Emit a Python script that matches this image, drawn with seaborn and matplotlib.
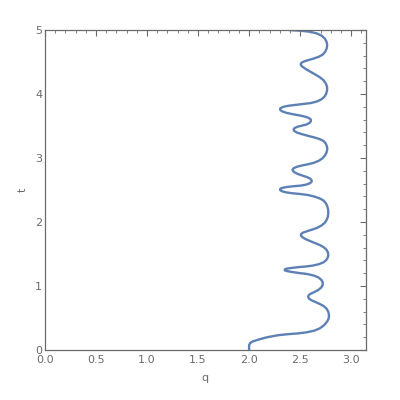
import numpy as np
import pandas as pd
import matplotlib
matplotlib.use("Agg")
import matplotlib.pyplot as plt
import seaborn as sns
from matplotlib.ticker import MultipleLocator, FormatStrFormatter

# values, t increasing
t_vals = [
    0.000, 0.078, 0.109, 0.133, 0.164, 0.198, 0.230, 0.247, 0.259, 0.277,
    0.302, 0.339, 0.391, 0.448, 0.495, 0.547, 0.598, 0.648, 0.688, 0.722,
    0.753, 0.781, 0.808, 0.833,
    0.856, 0.875, 0.902, 0.938, 0.977, 1.016, 1.055, 1.094, 1.133, 1.163,
    1.188, 1.203, 1.219, 1.234, 1.245, 1.261, 1.272, 1.283, 1.294, 1.305,
    1.319, 1.341, 1.370, 1.409, 1.453, 1.492,
    1.531, 1.570, 1.602, 1.636, 1.664, 1.700, 1.734, 1.763, 1.789, 1.813,
    1.833, 1.855, 1.883, 1.911, 1.945, 1.984, 2.027, 2.078, 2.133, 2.188,
    2.242, 2.292, 2.336, 2.367, 2.395, 2.422, 2.438, 2.450, 2.464, 2.481,
    2.500, 2.519, 2.534, 2.547, 2.558, 2.567, 2.581, 2.602, 2.625, 2.648,
    2.675, 2.698, 2.723, 2.747, 2.773, 2.800, 2.820, 2.841, 2.863, 2.883,
    2.902, 2.925, 2.958, 2.995, 3.039, 3.086, 3.133, 3.180, 3.227, 3.266,
    3.297, 3.323, 3.348, 3.375, 3.398, 3.425, 3.448, 3.469, 3.489, 3.505,
    3.523, 3.550, 3.578, 3.602, 3.625, 3.645, 3.664, 3.684, 3.706, 3.731,
    3.753, 3.777, 3.800, 3.817, 3.830, 3.844, 3.859, 3.883, 3.917, 3.958,
    4.008, 4.063, 4.117, 4.167, 4.219, 4.266, 4.308, 4.352, 4.394, 4.427,
    4.453, 4.477, 4.497, 4.516, 4.534, 4.555, 4.583, 4.617, 4.661, 4.714,
    4.766, 4.817, 4.867, 4.914, 4.948, 4.973, 4.988, 5.000]
q_vals = [
    2.000, 2.000, 2.011, 2.035, 2.094, 2.173, 2.278, 2.380, 2.478, 2.566,
    2.638, 2.694, 2.737, 2.766, 2.780, 2.783, 2.776, 2.758, 2.729, 2.689,
    2.645, 2.606, 2.584, 2.579,
    2.584, 2.599, 2.635, 2.678, 2.707, 2.721, 2.722, 2.709, 2.680, 2.635,
    2.566, 2.488, 2.419, 2.370, 2.350, 2.350, 2.370, 2.419, 2.478, 2.557,
    2.625, 2.684, 2.729, 2.758, 2.773, 2.776,
    2.771, 2.756, 2.734, 2.699, 2.655, 2.601, 2.552, 2.522, 2.507, 2.510,
    2.527, 2.566, 2.621, 2.670, 2.709, 2.739, 2.758, 2.771, 2.776, 2.775,
    2.767, 2.753, 2.729, 2.694, 2.645, 2.576, 2.498, 2.419, 2.360, 2.321,
    2.304, 2.306, 2.326, 2.370, 2.429, 2.498, 2.552, 2.591, 2.611, 2.614,
    2.601, 2.573, 2.527, 2.483, 2.448, 2.429, 2.426, 2.437, 2.468, 2.517,
    2.576, 2.635, 2.684, 2.719, 2.743, 2.759, 2.766, 2.763, 2.751, 2.729,
    2.689, 2.635, 2.573, 2.512, 2.468, 2.441, 2.436, 2.447, 2.475, 2.517,
    2.562, 2.594, 2.606, 2.604, 2.586, 2.552, 2.498, 2.429, 2.365, 2.321,
    2.304, 2.306, 2.335, 2.389, 2.458, 2.540, 2.606, 2.665, 2.709, 2.739,
    2.756, 2.765, 2.763, 2.751, 2.727, 2.689, 2.645, 2.596, 2.552, 2.522,
    2.507, 2.507, 2.522, 2.552, 2.589, 2.635, 2.684, 2.722, 2.746, 2.761,
    2.765, 2.759, 2.741, 2.709, 2.660, 2.596, 2.507, 2.392]

x_ticks = [0.0, 0.5, 1.0, 1.5, 2.0, 2.5, 3.0]
y_ticks = [0, 1, 2, 3, 4, 5]

df = pd.DataFrame({"q": q_vals, "t": t_vals})

sns.set_style("white")
plt.rcParams["font.family"] = ["DejaVu Sans"]

gray = "#6b6b6b"
fig = plt.figure(figsize=(4, 4), dpi=100)
ax = fig.add_axes([0.1125, 0.125, 0.8015, 0.80])

sns.lineplot(data=df, x="q", y="t", sort=False, estimator=None,
             color="#5e81b5", linewidth=1.7, ax=ax,
             solid_joinstyle="round", solid_capstyle="round")

ax.set_xlim(0, np.pi)
ax.set_ylim(0, 5)
ax.set_xticks(x_ticks)
ax.set_yticks(y_ticks)
ax.xaxis.set_major_formatter(FormatStrFormatter("%.1f"))
ax.xaxis.set_minor_locator(MultipleLocator(0.1))
ax.yaxis.set_minor_locator(MultipleLocator(0.2))

ax.tick_params(which="both", direction="in", top=True, right=True,
               color=gray, labelcolor=gray, labelsize=8, pad=2)
ax.tick_params(axis="x", which="both", pad=3.5)
ax.tick_params(which="major", length=4, width=0.8)
ax.tick_params(which="minor", length=2.2, width=0.6)
for s in ax.spines.values():
    s.set_color(gray)
    s.set_linewidth(0.9)

ax.set_xlabel("q", color=gray, fontsize=8, labelpad=6)
ax.set_ylabel("t", color=gray, fontsize=8, labelpad=5)

fig.savefig("out.png", dpi=100)
